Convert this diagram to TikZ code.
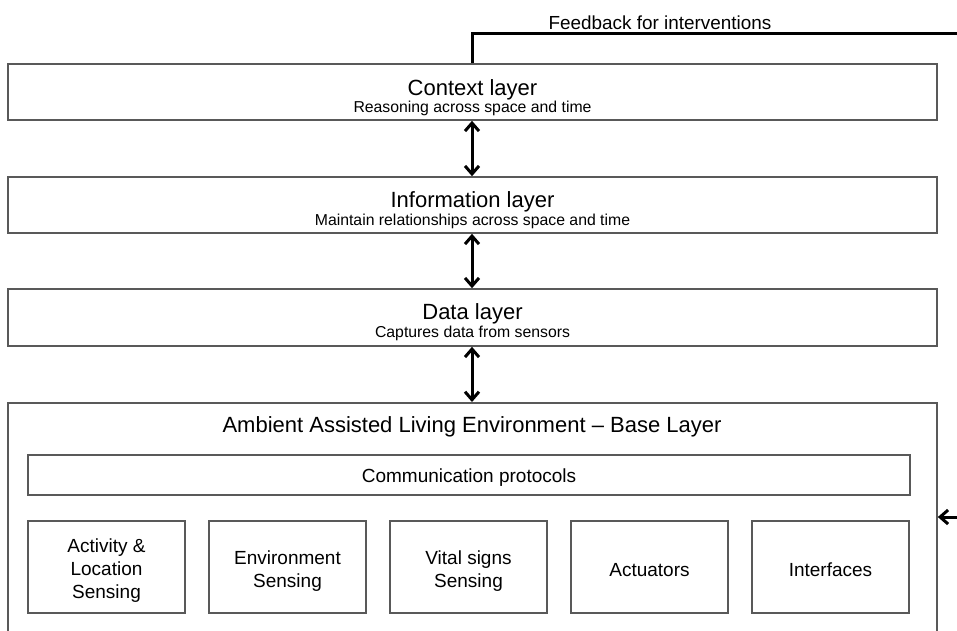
\documentclass[tikz,border=0pt]{standalone}
\usepackage{fontspec}
\setmainfont{Liberation Sans}
\usetikzlibrary{arrows.meta}
\begin{document}
\begin{tikzpicture}[x=1pt,y=-1pt,
  layerbox/.style={draw=black!65, line width=1.6pt, minimum width=929pt, inner sep=0pt},
  subbox/.style={draw=black!65, line width=1.6pt, minimum width=157pt, minimum height=92pt, inner sep=0pt},
  boxtext/.style={align=center, inner sep=0pt, font=\fontsize{19}{23}\selectfont},
  dblarrow/.style={line width=3pt, {Straight Barb[length=8pt,width=14pt]}-{Straight Barb[length=8pt,width=14pt]}},
  fbline/.style={line width=3pt},
  fbarrow/.style={line width=3pt, -{Straight Barb[length=8pt,width=14pt]}},
  ttl/.style={font=\fontsize{22}{26}\selectfont},
  sub/.style={font=\fontsize{15.8}{19}\selectfont}]
\useasboundingbox (0,0) rectangle (957,630);
\clip (0,0) rectangle (957,630);

% layer boxes
\node[layerbox, minimum height=56pt] (ctx) at (472.5,92) {};
\node[ttl] (ctxt) at (472.5,89.5) {Context layer};
\node[sub] (ctxs) at (472.5,108) {Reasoning across space and time};

\node[layerbox, minimum height=56pt] (info) at (472.5,205) {};
\node[ttl] (infot) at (472.5,201.5) {Information layer};
\node[sub] (infos) at (472.5,221) {Maintain relationships across space and time};

\node[layerbox, minimum height=57pt] (data) at (472.5,317.5) {};
\node[ttl] (datat) at (472.5,313.5) {Data layer};
\node[sub] (datas) at (472.5,333) {Captures data from sensors};

% base layer (open at the bottom edge of the picture)
\node[layerbox, minimum height=260pt, anchor=north] (base) at (472.5,402) {};
\node[ttl] (baset) at (472,426.5) {Ambient Assisted Living Environment -- Base Layer};

\node[draw=black!65, line width=1.6pt, minimum width=882pt, minimum height=40pt, inner sep=0pt] (comm) at (469,475) {};
\node[boxtext] (commt) at ([yshift=-2.5pt]comm.center) {Communication protocols};

\node[subbox] (b1) at (106.5,567) {};
\node[subbox] (b2) at (287.5,567) {};
\node[subbox] (b3) at (468.5,567) {};
\node[subbox] (b4) at (649.5,567) {};
\node[subbox] (b5) at (830.5,567) {};
\node[boxtext] (b1t) at ([yshift=-4pt]b1.center) {Activity \&\\Location\\Sensing};
\node[boxtext] (b2t) at ([yshift=-4pt]b2.center) {Environment\\Sensing};
\node[boxtext] (b3t) at ([yshift=-4pt]b3.center) {Vital signs\\Sensing};
\node[boxtext] (b4t) at ([yshift=-3pt]b4.center) {Actuators};
\node[boxtext] (b5t) at ([yshift=-3pt]b5.center) {Interfaces};

% connectors between layers
\draw[dblarrow] (ctx.south -| 472,0) -- (info.north -| 472,0);
\draw[dblarrow] (info.south -| 472,0) -- (data.north -| 472,0);
\draw[dblarrow] (data.south -| 472,0) -- (base.north -| 472,0);

% feedback
\coordinate (fbtop) at (472,33);
\coordinate (fbend) at (962,33);
\coordinate (fbin) at (962,517);
\draw[fbline] (ctx.north -| fbtop) -- (fbtop) -- (fbend);
\node[font=\fontsize{18.9}{22}\selectfont] (fblabel) at (660,22.5) {Feedback for interventions};
\draw[fbarrow] (fbin) -- (fbin -| base.east);
\end{tikzpicture}
\end{document}
